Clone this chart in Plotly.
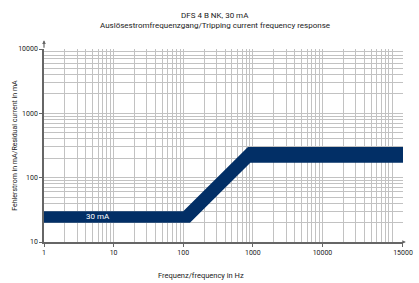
import math
import plotly.graph_objects as go

# ---- data ----
x_end = 143500  # right edge of the plotted frequency range (labelled "15000" in the original)
band_upper_x = [1, 100, 850, x_end]
band_upper_y = [30, 30, 300, 300]
band_lower_x = [1, 125, 920, x_end]
band_lower_y = [20, 20, 170, 170]
x_tick_vals = [1, 10, 100, 1000, 10000, x_end]
x_tick_text = ["1", "10", "100", "1000", "10000", "15000"]
y_tick_vals = [10, 100, 1000, 10000]
y_tick_text = ["10", "100", "1000", "10000"]
label_text = "30 mA"
label_x, label_y = 6, 24.5

FONT = "Roboto, Liberation Sans, sans-serif"
TXT = "#222222"
BAND = "#022f66"
GRID = "#c2c2c2"
AXIS = "#666666"

x_minor = [m * 10 ** k for k in range(0, 5) for m in range(2, 10)] + [100000]
y_minor = [m * 10 ** k for k in range(1, 4) for m in range(2, 10)]

fig = go.Figure()
fig.add_trace(go.Scatter(
    x=band_upper_x + band_lower_x[::-1],
    y=band_upper_y + band_lower_y[::-1],
    fill="toself", fillcolor=BAND, mode="lines", line=dict(width=0, color=BAND),
    hoverinfo="skip", showlegend=False,
))

fig.add_annotation(x=math.log10(label_x), y=math.log10(label_y), xref="x", yref="y", text=label_text,
                   showarrow=False, font=dict(family=FONT, size=8, color="white"))

# axis arrows
fig.add_annotation(x=0, y=1.045, xref="paper", yref="paper", ax=0, ay=9, axref="pixel", ayref="pixel",
                   text="", showarrow=True, arrowhead=2, arrowsize=0.6, arrowwidth=1.2, arrowcolor=AXIS)
fig.add_annotation(x=1.008, y=0, xref="paper", yref="paper", ax=-3, ay=0,
                   text="", showarrow=True, arrowhead=2, arrowsize=0.6, arrowwidth=1.2, arrowcolor=AXIS)

fig.add_annotation(x=0.477, y=1.0, xref="paper", yref="paper", yshift=33.7, showarrow=False,
                   xanchor="center", yanchor="middle",
                   text="DFS 4 B NK, 30 mA", font=dict(family=FONT, size=8, color=TXT))
fig.add_annotation(x=0.477, y=1.0, xref="paper", yref="paper", yshift=23.5, showarrow=False,
                   xanchor="center", yanchor="middle",
                   text="Auslösestromfrequenzgang/Tripping current frequency response",
                   font=dict(family=FONT, size=8, color=TXT))
fig.add_annotation(x=-0.083, y=0.5, xref="paper", yref="paper", showarrow=False, textangle=-90,
                   xanchor="center", yanchor="middle",
                   text="Fehlerstrom in mA/Residual current in mA",
                   font=dict(family=FONT, size=7, color=TXT))
fig.add_annotation(x=0.436, y=0, xref="paper", yref="paper", yshift=-33.7, showarrow=False,
                   xanchor="center", yanchor="middle",
                   text="Frequenz/frequency in Hz",
                   font=dict(family=FONT, size=7.5, color=TXT))

fig.update_xaxes(type="log", range=[0, 5.157], tickvals=x_tick_vals, ticktext=x_tick_text,
                 showgrid=True, gridcolor=GRID, gridwidth=1, ticklabeloverflow="allow",
                 minor=dict(tickvals=x_minor, showgrid=True, gridcolor=GRID, gridwidth=1, ticks=""),
                 showline=True, linecolor=AXIS, linewidth=1.5, ticks="outside", ticklen=3,
                 tickcolor=AXIS, tickfont=dict(family=FONT, size=7, color=TXT), zeroline=False)
fig.update_yaxes(type="log", range=[1, 4], tickvals=y_tick_vals, ticktext=y_tick_text,
                 showgrid=True, gridcolor=GRID, gridwidth=1,
                 minor=dict(tickvals=y_minor, showgrid=True, gridcolor=GRID, gridwidth=1, ticks=""),
                 showline=True, linecolor=AXIS, linewidth=1.5, ticks="outside", ticklen=3,
                 tickcolor=AXIS, tickfont=dict(family=FONT, size=7, color=TXT), zeroline=False)

fig.update_layout(width=419, height=283, margin=dict(l=44, r=6, t=49, b=41),
                  plot_bgcolor="white", paper_bgcolor="white", showlegend=False)

fig.write_html("out.html", config={"displayModeBar": False},
               post_script="document.body.style.margin='0';document.body.style.overflow='hidden';")
